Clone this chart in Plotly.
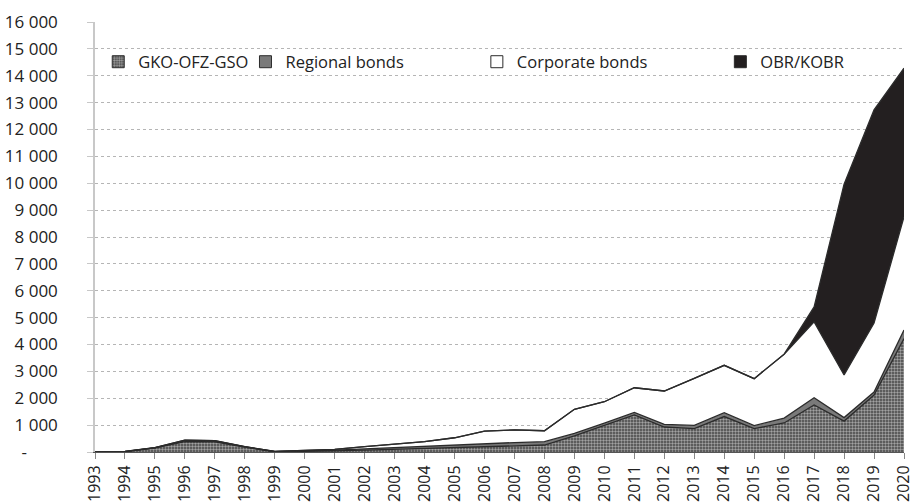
import plotly.graph_objects as go

years = list(range(1993, 2021))
year_labels = [str(y) for y in years]

gko = [0, 15, 150, 390, 380, 180, 10, 20, 40, 70, 100, 130, 160, 200, 230, 260,
       600, 980, 1380, 930, 870, 1320, 870, 1080, 1750, 1150, 2120, 4220]
regional = [0, 2, 5, 20, 25, 10, 5, 15, 25, 50, 70, 80, 90, 110, 120, 125,
            90, 90, 90, 100, 120, 140, 110, 180, 270, 130, 110, 320]
corporate = [0, 3, 5, 35, 15, 10, 5, 15, 35, 80, 115, 175, 280, 470, 470, 405,
             900, 800, 920, 1240, 1750, 1765, 1750, 2380, 2820, 1585, 2570, 4210]
obr = [0] * 24 + [560, 7100, 7930, 5530]

y_ticks = list(range(0, 16001, 1000))
y_tick_text = ["-" + "\u00a0" * 7] + [f"{v // 1000} 000" for v in y_ticks[1:]]

FONT = "Open Sans"
EDGE = "#2b2b2b"
PATTERN = dict(shape=".", fgcolor="#ffffff", bgcolor="#454545", size=3, solidity=0.5)

fig = go.Figure()

series = [
    ("GKO-OFZ-GSO", gko, "rgba(0,0,0,0)", PATTERN, "legend"),
    ("Regional bonds", regional, "#7a7a7a", None, "legend2"),
    ("Corporate bonds", corporate, "#ffffff", None, "legend3"),
    ("OBR/KOBR", obr, "#231f20", None, "legend4"),
]

for name, vals, color, patt, _ in series:
    kw = dict(
        x=years, y=vals, name=name, mode="lines", stackgroup="one",
        line=dict(color=EDGE, width=1.3), fillcolor=color,
        showlegend=False, hoverinfo="x+y+name",
    )
    if patt:
        kw["fillpattern"] = patt
    fig.add_trace(go.Scatter(**kw))

# legend swatches
for name, vals, color, patt, lg in series:
    marker = dict(color=color if not patt else "#454545", line=dict(color=EDGE, width=1))
    if patt:
        marker["pattern"] = dict(patt)
    fig.add_trace(go.Bar(x=[None], y=[None], name=name, marker=marker,
                         showlegend=True, legend=lg))

leg_common = dict(orientation="h", yanchor="middle", y=0.907, xanchor="left",
                  font=dict(family=FONT, size=16.5, color="#222"),
                  bgcolor="rgba(0,0,0,0)", itemwidth=30)
legend_x = [0.004, 0.186, 0.472, 0.773]

fig.update_layout(
    width=915, height=502,
    margin=dict(l=95, r=11, t=22, b=50),
    paper_bgcolor="white", plot_bgcolor="white",
    font=dict(family=FONT, size=16, color="#222"),
    legend=dict(x=legend_x[0], **leg_common),
    legend2=dict(x=legend_x[1], **leg_common),
    legend3=dict(x=legend_x[2], **leg_common),
    legend4=dict(x=legend_x[3], **leg_common),
    xaxis=dict(
        range=[1993, 2020], tickvals=years, ticktext=year_labels,
        tickangle=-90, tickfont=dict(family=FONT, size=16, color="#222"),
        showgrid=False, showline=True, linecolor="#555", linewidth=1,
        ticks="outside", ticklen=6, tickcolor="#888", zeroline=False,
        automargin=False, ticklabeloverflow="allow",
    ),
    yaxis=dict(
        range=[0, 16000], tickvals=y_ticks, ticktext=y_tick_text,
        tickfont=dict(family=FONT, size=17, color="#222"),
        showgrid=True, gridcolor="#b5b5b5", griddash="dot", gridwidth=1,
        showline=True, linecolor="#c8c8c8", linewidth=1.5,
        ticks="outside", ticklen=6, tickcolor="#c8c8c8",
        ticklabelstandoff=26, zeroline=False, automargin=False,
    ),
    hovermode="x unified",
)

fig.write_html("out.html", config={"displayModeBar": False},
               post_script="document.body.style.margin='0';document.body.style.overflow='hidden';")
